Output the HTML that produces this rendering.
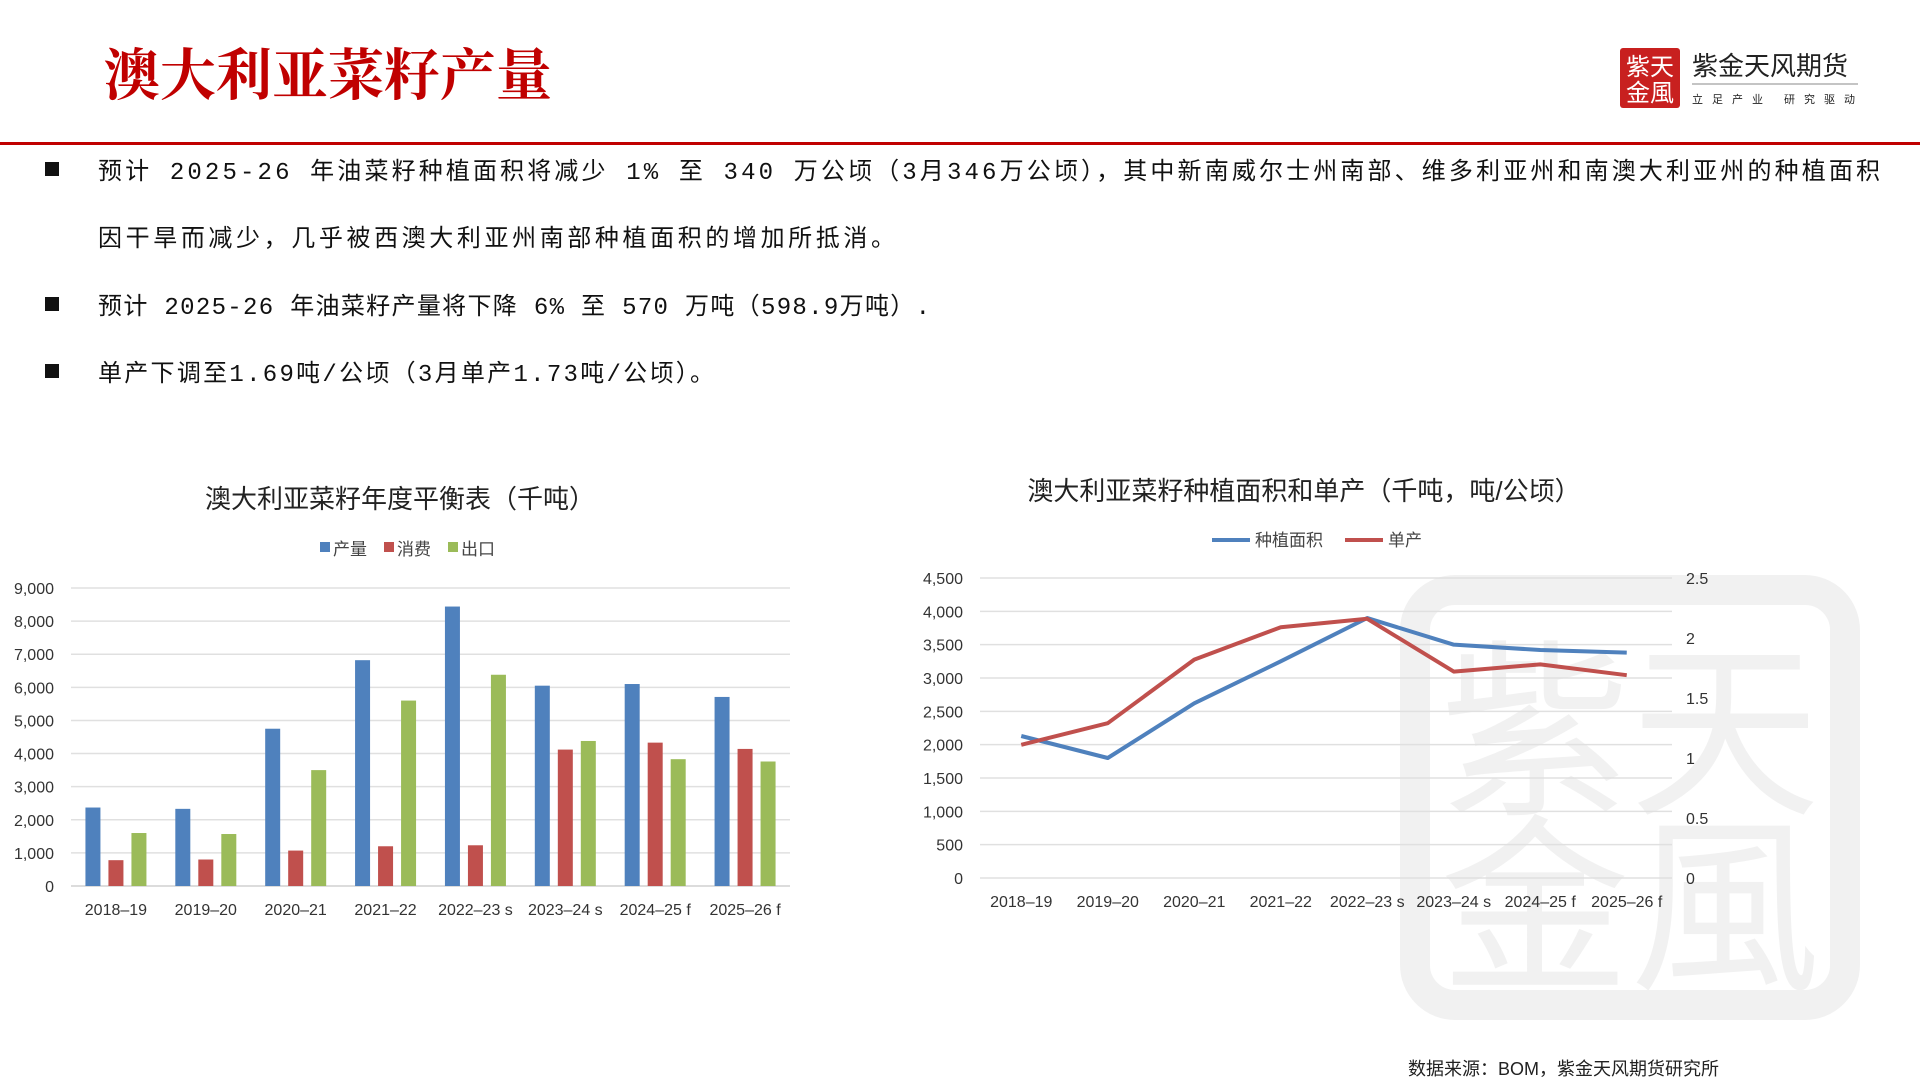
<!DOCTYPE html>
<html><head><meta charset="utf-8"><style>
body{margin:0;background:#fff;}
svg text{font-family:"Liberation Sans","Noto Sans CJK SC",sans-serif;}
.mono{font-family:"Liberation Mono","Noto Sans CJK SC",monospace;}
</style></head><body>
<svg id="s" width="1920" height="1080" xmlns="http://www.w3.org/2000/svg">
<g opacity="0.05">
<rect x="1415" y="590" width="430" height="415" rx="40" fill="none" stroke="#000" stroke-width="30"/>
<text x="1630" y="800" font-size="190" text-anchor="middle" fill="#000">紫天</text>
<text x="1630" y="975" font-size="190" text-anchor="middle" fill="#000">金風</text>
</g>
<text x="104" y="95" font-size="56" font-weight="bold" fill="#c00000" style="font-family:'Noto Serif CJK SC',serif">澳大利亚菜籽产量</text>
<g>
<rect x="1620" y="48" width="60" height="60" fill="#c8201f" rx="3"/>
<text x="1650" y="75" font-size="24" fill="#fff" text-anchor="middle">紫天</text>
<text x="1650" y="101" font-size="24" fill="#fff" text-anchor="middle">金風</text>
<text x="1692" y="75" font-size="26" fill="#222">紫金天风期货</text>
<line x1="1692" y1="84" x2="1858" y2="84" stroke="#888" stroke-width="1"/>
<text x="1692" y="103" font-size="11" fill="#222" letter-spacing="9">立足产业 研究驱动</text>
</g>
<rect x="0" y="142" width="1920" height="3" fill="#c00000"/>
<g font-size="24" fill="#111" class="mono">
<rect x="45" y="162" width="14" height="14" fill="#111"/>
<text class="mono" x="98" y="179" textLength="1782" lengthAdjust="spacing">预计 2025-26 年油菜籽种植面积将减少 1% 至 340 万公顷（3月346万公顷），其中新南威尔士州南部、维多利亚州和南澳大利亚州的种植面积</text>
<text class="mono" x="98" y="246" textLength="797" lengthAdjust="spacing">因干旱而减少，几乎被西澳大利亚州南部种植面积的增加所抵消。</text>
<rect x="45" y="297" width="14" height="14" fill="#111"/>
<text class="mono" x="98" y="314" textLength="832" lengthAdjust="spacing">预计 2025-26 年油菜籽产量将下降 6% 至 570 万吨（598.9万吨）.</text>
<rect x="45" y="364" width="14" height="14" fill="#111"/>
<text class="mono" x="98" y="381" textLength="616" lengthAdjust="spacing">单产下调至1.69吨/公顷（3月单产1.73吨/公顷）。</text>
</g>
<text x="400" y="508" font-size="26" text-anchor="middle" fill="#222">澳大利亚菜籽年度平衡表（千吨）</text>
<g id="barLegend" font-size="17" fill="#444"></g>
<g id="bars"></g>
<text x="1304" y="500" font-size="26" text-anchor="middle" fill="#222">澳大利亚菜籽种植面积和单产（千吨，吨/公顷）</text>
<g id="lines"></g>
<text x="1408" y="1075" font-size="18" fill="#222">数据来源：BOM，紫金天风期货研究所</text>
</svg>
<script>
const NS="http://www.w3.org/2000/svg";
const categories=["2018–19","2019–20","2020–21","2021–22","2022–23 s","2023–24 s","2024–25 f","2025–26 f"];
const production=[2370,2330,4750,6820,8440,6050,6100,5710];
const consumption=[780,800,1070,1200,1230,4120,4330,4140];
const exportsV=[1600,1570,3500,5600,6380,4380,3830,3760];
const barTicks=[0,1000,2000,3000,4000,5000,6000,7000,8000,9000];
const area=[2130,1800,2620,3250,3900,3500,3420,3380];
const yieldV=[1.11,1.29,1.82,2.09,2.16,1.72,1.78,1.69];
const areaTicks=[0,500,1000,1500,2000,2500,3000,3500,4000,4500];
const yieldTicks=[0,0.5,1,1.5,2,2.5];
function mk(tag,attrs,parent,txt){const e=document.createElementNS(NS,tag);for(const k in attrs)e.setAttribute(k,attrs[k]);if(txt!==undefined)e.textContent=txt;parent.appendChild(e);return e;}
const bg=document.getElementById('bars');
const bx0=71,bx1=790,by0=886,by1=588,bmax=9000;
const yB=v=>by0-(v/bmax)*(by0-by1);
const bw=(bx1-bx0)/categories.length;
barTicks.forEach(t=>{
 const l=mk('line',{x1:bx0,x2:bx1,y1:yB(t),y2:yB(t),stroke:t===0?'#d0d0d0':'#e0e0e0','stroke-width':1.5},bg);
 
 
 const tx=mk('text',{x:54,y:yB(t)+6,'font-size':16,'text-anchor':'end',fill:'#333'},bg,t.toLocaleString('en-US'));
 
 
});
const series=[[production,'#4f81bd','production'],[consumption,'#c0504d','consumption'],[exportsV,'#9bbb59','export']];
categories.forEach((c,i)=>{
 const cx=bx0+bw*(i+0.5);
 series.forEach((s,j)=>{
  const v=s[0][i];
  const r=mk('rect',{x:cx+(j-1)*23-7.5,y:yB(v),width:15,height:by0-yB(v),fill:s[1]},bg);
  
  
 });
 const tx=mk('text',{x:cx,y:915,'font-size':16,'text-anchor':'middle',fill:'#333'},bg,c);
 
 
});
const lg=document.getElementById('barLegend');
[['产量','#4f81bd',320],['消费','#c0504d',384],['出口','#9bbb59',448]].forEach(a=>{
 const g=mk('g',{},lg);
 
 
 mk('rect',{x:a[2],y:542,width:10,height:10,fill:a[1]},g);
 mk('text',{x:a[2]+13,y:555},g,a[0]);
});
const lgp=document.getElementById('lines');
const lx0=980,lx1=1672,ly0=878,ly1=578;
const yA=v=>ly0-(v/4500)*(ly0-ly1);
const yY=v=>ly0-(v/2.5)*(ly0-ly1);
const lw=(lx1-lx0)/categories.length;
const xL=i=>lx0+lw*(i+0.5)-2;
areaTicks.forEach(t=>{
 const l=mk('line',{x1:lx0,x2:lx1,y1:yA(t),y2:yA(t),stroke:'#e0e0e0','stroke-width':1.5},lgp);
 
 
 const tx=mk('text',{x:963,y:yA(t)+6,'font-size':16,'text-anchor':'end',fill:'#333'},lgp,t.toLocaleString('en-US'));
 
 
});
yieldTicks.forEach(t=>{
 const tx=mk('text',{x:1686,y:yY(t)+6,'font-size':16,fill:'#333'},lgp,String(t));
 
 
});
categories.forEach((c,i)=>{
 const tx=mk('text',{x:xL(i),y:907,'font-size':16,'text-anchor':'middle',fill:'#333'},lgp,c);
 
 
});
const pa=mk('polyline',{points:area.map((v,i)=>xL(i)+','+yA(v)).join(' '),fill:'none',stroke:'#4f81bd','stroke-width':4,'stroke-linejoin':'round'},lgp);


const py=mk('polyline',{points:yieldV.map((v,i)=>xL(i)+','+yY(v)).join(' '),fill:'none',stroke:'#c0504d','stroke-width':4,'stroke-linejoin':'round'},lgp);


[['种植面积','#4f81bd',1212],['单产','#c0504d',1345]].forEach(a=>{
 const g=mk('g',{},lgp);
 
 
 mk('line',{x1:a[2],x2:a[2]+38,y1:540,y2:540,stroke:a[1],'stroke-width':4},g);
 mk('text',{x:a[2]+43,y:546,'font-size':17,fill:'#444'},g,a[0]);
});
</script>
</body></html>
